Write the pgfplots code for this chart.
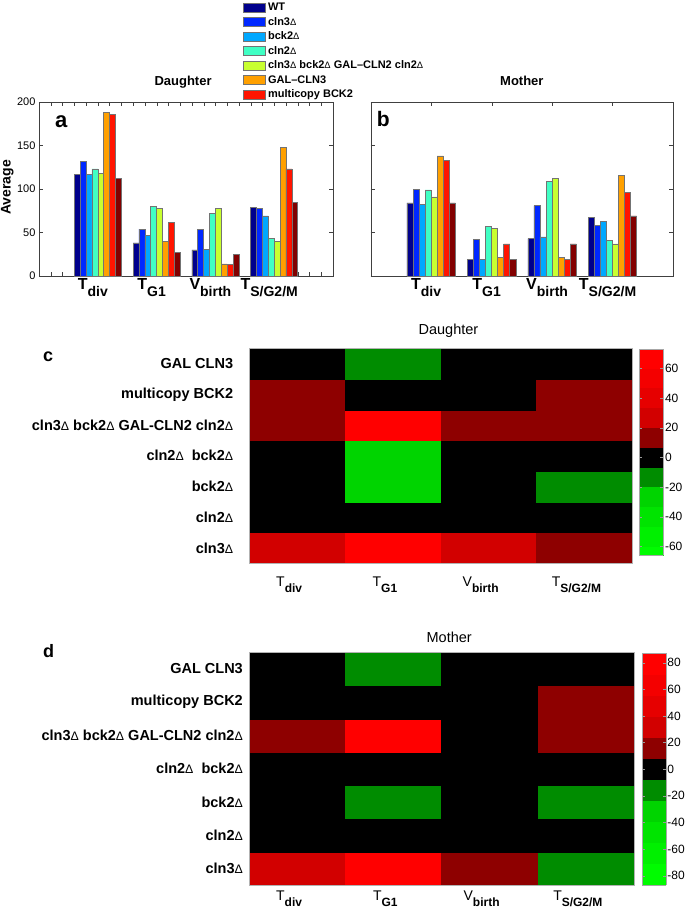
\documentclass[border=0pt]{standalone}
\usepackage{fontspec}
\setmainfont{Liberation Sans}
\usepackage{pgfplots}
\usepackage{pgfplotstable}
\pgfplotsset{compat=1.18}

% bar colours, one per strain
\definecolor{cWT}{HTML}{00008C}
\definecolor{cCln3}{HTML}{0028FF}
\definecolor{cBck2}{HTML}{00A8FF}
\definecolor{cCln2}{HTML}{40FFC4}
\definecolor{cQuad}{HTML}{C8FF30}
\definecolor{cGal}{HTML}{FFA000}
\definecolor{cMulti}{HTML}{FF1400}
\definecolor{cDbl}{HTML}{820000}
% heat map bands
\definecolor{rA}{HTML}{8E0000}
\definecolor{rB}{HTML}{D20000}
\definecolor{rC}{HTML}{E60000}
\definecolor{rD}{HTML}{F40000}
\definecolor{rE}{HTML}{FF0000}
\definecolor{gA}{HTML}{008C00}
\definecolor{gB}{HTML}{00D400}
\definecolor{gC}{HTML}{00E400}
\definecolor{gD}{HTML}{00F000}
\definecolor{gE}{HTML}{00FC00}

\newcommand{\dl}{\scalebox{0.85}{\mdseries Δ}}
\newcommand{\fs}[1]{\fontsize{#1}{#1}\selectfont}
\newcommand{\bt}[2]{{\fs{16}\bfseries #1\raisebox{-7pt}{\fs{14}#2}}}
\newcommand{\htl}[2]{{\fs{14}#1\raisebox{-6pt}{\fs{12}\bfseries #2}}}

% averages, daughter cells
\pgfplotstableread{
x wt cln3 bck2 cln2 quad gal multi dbl
1 117 132 117 123 118 188 186 112
2 38 54 47 80 78 40 62 27
3 30 54 31 72 78 14 13 25
4 79 78 69 43 40 148 123 85
}\daughter
% averages, mother cells
\pgfplotstableread{
x wt cln3 bck2 cln2 quad gal multi dbl
1 84 100 82 99 91 138 133 84
2 19 42 19 57 55 21 37 19
3 43 81 45 109 112 21 19 37
4 67 58 63 41 37 116 96 69
}\mother
% heat map, daughter (y=0 is cln3 at the bottom)
\pgfplotstableread{
x y v
0 0 27
1 0 65
2 0 27
3 0 13
0 1 0
1 1 0
2 1 0
3 1 0
0 2 0
1 2 -27
2 2 0
3 2 -13
0 3 0
1 3 -27
2 3 0
3 3 0
0 4 13
1 4 65
2 4 13
3 4 13
0 5 13
1 5 0
2 5 0
3 5 13
0 6 0
1 6 -13
2 6 0
3 6 0
}\heatD
% heat map, mother
\pgfplotstableread{
x y v
0 0 32
1 0 80
2 0 16
3 0 -16
0 1 0
1 1 0
2 1 0
3 1 0
0 2 0
1 2 -16
2 2 0
3 2 -16
0 3 0
1 3 0
2 3 0
3 3 0
0 4 16
1 4 80
2 4 0
3 4 16
0 5 0
1 5 0
2 5 0
3 5 16
0 6 0
1 6 -16
2 6 0
3 6 0
}\heatM

\pgfplotsset{
  /pgf/number format/assume math mode=true,
  barpanel/.style={
    scale only axis, height=174pt,
    xmin=0, xmax=5, ymin=0, ymax=200,
    ybar=0pt, bar width=0.1,
    axis line style={black!75}, tick style={black!75},
    tick align=inside, major tick length=4pt, minor tick length=4pt,
    xtick={1,2,3,4},
    xticklabels={\bt{T}{div},\bt{T}{G1},\bt{V}{birth},\bt{T}{S/G2/M}},
    xticklabel style={xshift=-5pt, inner sep=2pt},
    ytick={0,50,...,200},
    yticklabel style={font=\fs{11}},
    title style={font=\fs{13}\bfseries, anchor=base, yshift=11pt},
    every axis plot/.append style={draw=black!55, line width=0.6pt},
  },
  heatpanel/.style={
    scale only axis, axis on top,
    xmin=-0.5, xmax=3.5, ymin=-0.5, ymax=6.5, enlargelimits=false,
    axis line style={black!30}, major tick length=0pt, tick style={draw=none},
    xtick={0,1,2,3},
    xticklabels={\htl{T}{div},\htl{T}{G1},\htl{V}{birth},\htl{T}{S/G2/M}},
    ytick={0,...,6},
    yticklabels={cln3\dl, cln2\dl, bck2\dl, cln2\dl\ \ bck2\dl,
      cln3\dl\ bck2\dl\ GAL-CLN2 cln2\dl, multicopy BCK2, GAL CLN3},
    yticklabel style={font=\fs{14.5}\bfseries, anchor=east, inner sep=0pt},
    title style={font=\fs{14.5}, at={(axis description cs:0.52,1)}, anchor=base},
    colormap access=piecewise constant,
    colorbar,
  },
}

\begin{document}
\begin{tikzpicture}
\path[use as bounding box] (0pt,0pt) rectangle (685pt,-910pt);

% panel a
\begin{axis}[barpanel, at={(39pt,-276pt)}, anchor=south west, width=294pt,
  title={Daughter}, title style={at={(axis description cs:0.49,1)}},
  minor xtick={0.2,0.4,...,4.9},
  ylabel={Average},
  ylabel style={font=\fs{14}\bfseries, at={(axis description cs:-0.108,0.509)}, anchor=center},
  legend style={at={(axis description cs:0.6915,1.586)}, anchor=north west,
    draw=none, fill=none, inner sep=0pt, row sep=0pt,
    font=\fs{11}\bfseries,
    nodes={inner sep=1pt, text height=9.5pt, text depth=3pt},
    /tikz/every odd column/.append style={column sep=2pt}},
  legend cell align=left,
  legend image code/.code={\draw[#1] (0pt,-4.5pt) rectangle (22pt,4.5pt);},
]
\addplot[fill=cWT] table[x=x, y=wt] {\daughter};
\addplot[fill=cCln3] table[x=x, y=cln3] {\daughter};
\addplot[fill=cBck2] table[x=x, y=bck2] {\daughter};
\addplot[fill=cCln2] table[x=x, y=cln2] {\daughter};
\addplot[fill=cQuad] table[x=x, y=quad] {\daughter};
\addplot[fill=cGal] table[x=x, y=gal] {\daughter};
\addplot[fill=cMulti] table[x=x, y=multi] {\daughter};
\addplot[fill=cDbl] table[x=x, y=dbl] {\daughter};
\legend{WT, cln3\dl, bck2\dl, cln2\dl, cln3\dl\ bck2\dl\ GAL--CLN2 cln2\dl, GAL--CLN3, multicopy BCK2}
\end{axis}

% panel b
\begin{axis}[barpanel, at={(370.7pt,-276pt)}, anchor=south west, width=302.3pt,
  title={Mother}, yticklabels={}]
\addplot[fill=cWT] table[x=x, y=wt] {\mother};
\addplot[fill=cCln3] table[x=x, y=cln3] {\mother};
\addplot[fill=cBck2] table[x=x, y=bck2] {\mother};
\addplot[fill=cCln2] table[x=x, y=cln2] {\mother};
\addplot[fill=cQuad] table[x=x, y=quad] {\mother};
\addplot[fill=cGal] table[x=x, y=gal] {\mother};
\addplot[fill=cMulti] table[x=x, y=multi] {\mother};
\addplot[fill=cDbl] table[x=x, y=dbl] {\mother};
\end{axis}

% panel c
\begin{axis}[heatpanel, at={(249.3pt,-563.3pt)}, anchor=south west,
  width=383pt, height=215pt,
  title={Daughter}, title style={yshift=8pt},
  xticklabel style={xshift=-8pt, yshift=-10pt},
  yticklabel style={xshift=-16pt},
  colormap={heatc}{color(34)=(gE) color(40)=(gD) color(53.3)=(gC) color(66.7)=(gB)
    color(80)=(gA) color(93.3)=(black) color(106.7)=(rA) color(120)=(rB)
    color(133.3)=(rC) color(146.7)=(rD) color(160)=(rE) color(173)=(rE)},
  point meta min=-66, point meta max=73,
  colorbar style={at={(parent axis.north east)}, anchor=north west,
    xshift=-1.5pt, yshift=-1pt, width=24pt, height=206pt, scale only axis,
    ytick={-60,-40,...,60}, yticklabel style={font=\fs{12}, inner sep=1.5pt},
    axis line style={black!35}, major tick length=3pt, tick style={black!40}},
]
\addplot[matrix plot*, mesh/cols=4, point meta=explicit] table[x=x, y=y, meta=v] {\heatD};
\end{axis}

% panel d
\begin{axis}[heatpanel, at={(249pt,-885pt)}, anchor=south west,
  width=385pt, height=232.7pt,
  title={Mother}, title style={yshift=4.3pt},
  xticklabel style={xshift=-8pt, yshift=-2pt},
  yticklabel style={xshift=-6pt},
  colormap={heatm}{color(13)=(gE) color(29.4)=(gD) color(45.1)=(gC) color(60.8)=(gB)
    color(76.5)=(gA) color(92.15)=(black) color(107.85)=(rA) color(123.5)=(rB)
    color(139.2)=(rC) color(154.9)=(rD) color(170.6)=(rE) color(187)=(rE)},
  point meta min=-87, point meta max=87,
  colorbar style={at={(parent axis.north east)}, anchor=north west,
    xshift=-0.5pt, yshift=-1pt, width=23.7pt, height=231.7pt, scale only axis,
    ytick={-80,-60,...,80}, yticklabel style={font=\fs{12}, inner sep=1.5pt},
    axis line style={black!35}, major tick length=3pt, tick style={black!40}},
]
\addplot[matrix plot*, mesh/cols=4, point meta=explicit] table[x=x, y=y, meta=v] {\heatM};
\end{axis}

% panel letters
\node[anchor=base west, inner sep=0pt, font=\fs{22}\bfseries] at (55pt,-127pt) {a};
\node[anchor=base west, inner sep=0pt, font=\fs{21}\bfseries] at (376.7pt,-126.7pt) {b};
\node[anchor=base west, inner sep=0pt, font=\fs{18}\bfseries] at (43pt,-361.7pt) {c};
\node[anchor=base west, inner sep=0pt, font=\fs{18}\bfseries] at (43pt,-657pt) {d};
\end{tikzpicture}
\end{document}
